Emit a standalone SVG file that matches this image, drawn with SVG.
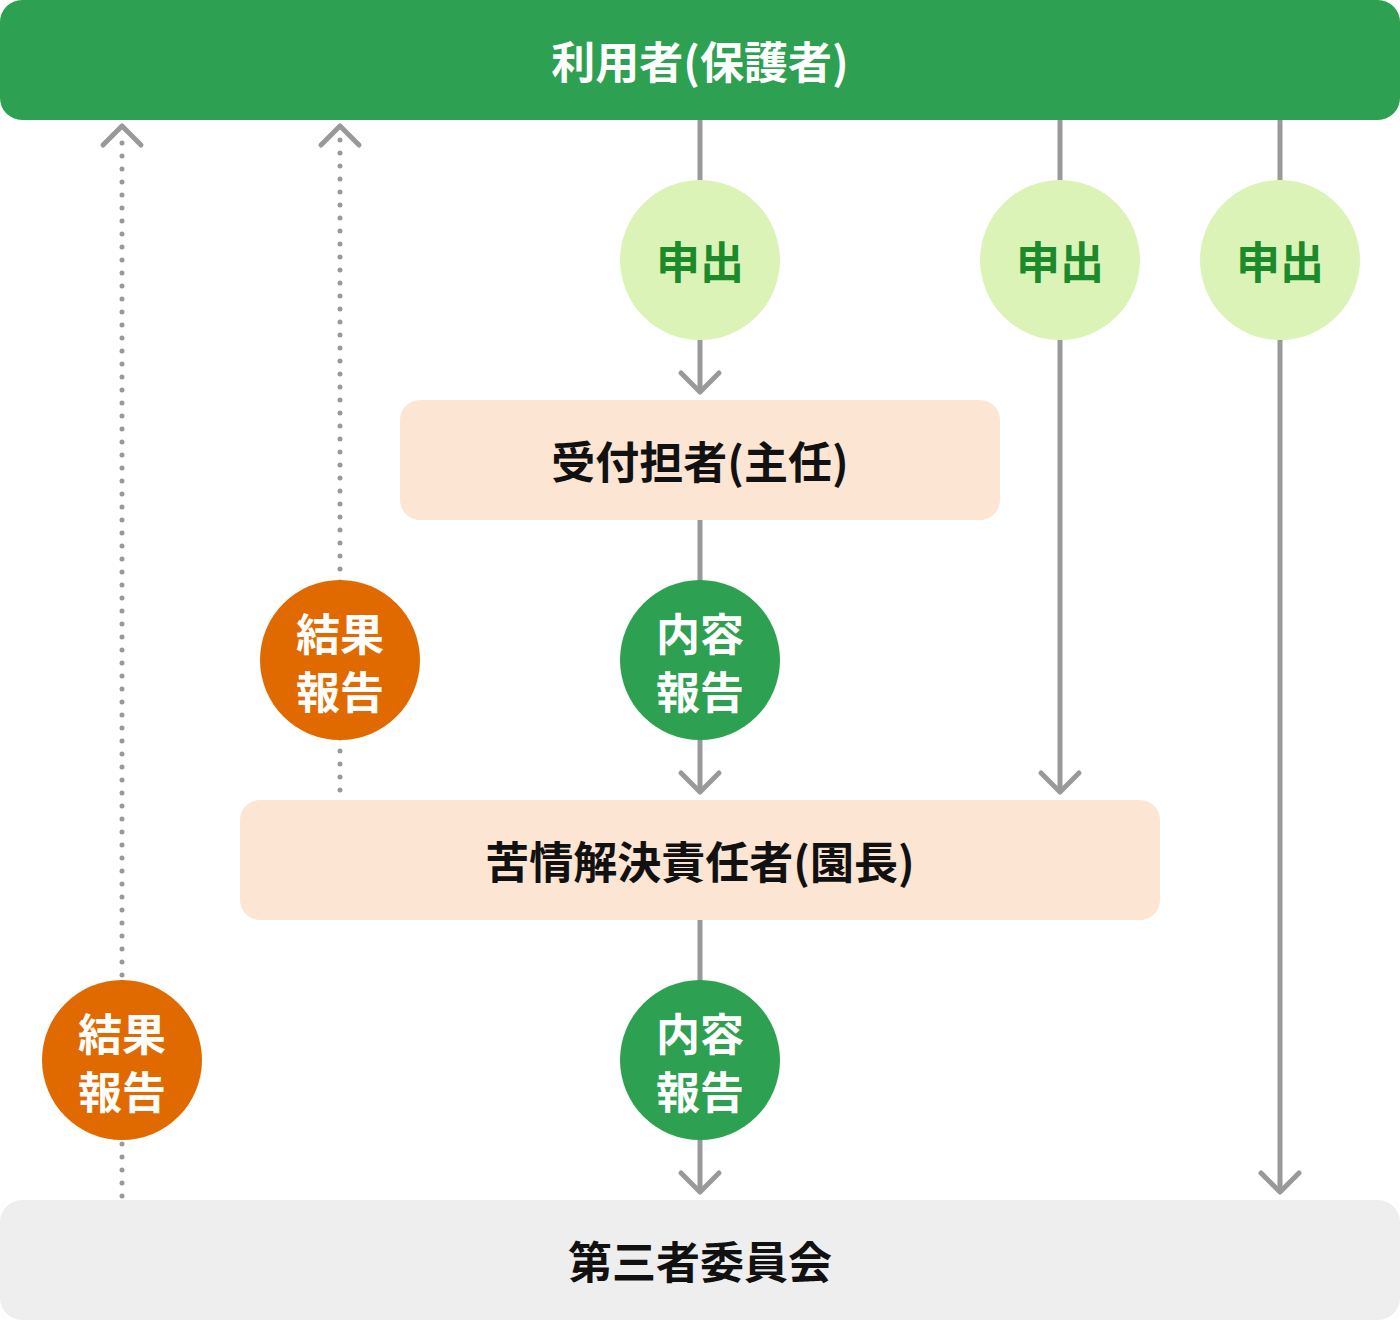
<svg xmlns="http://www.w3.org/2000/svg" width="1400" height="1320" viewBox="0 0 1400 1320">
<style>
.t{font-family:"Noto Sans CJK JP",sans-serif;font-weight:bold;font-size:44px;text-anchor:middle;dominant-baseline:central}
.ln{stroke:#999;stroke-width:5;fill:none}
.dot{stroke:#999;stroke-width:5;fill:none;stroke-dasharray:0 13;stroke-linecap:round}
.ch{stroke:#999;stroke-width:5;fill:none;stroke-linecap:round;stroke-linejoin:round}
</style>
<g id="connectors">
<line class="ln" x1="700" y1="120" x2="700" y2="392"/>
<line class="ln" x1="1060" y1="120" x2="1060" y2="792"/>
<line class="ln" x1="1280" y1="120" x2="1280" y2="1192"/>
<line class="ln" x1="700" y1="520" x2="700" y2="792"/>
<line class="ln" x1="700" y1="920" x2="700" y2="1192"/>
<line class="dot" x1="122" y1="1196" x2="122" y2="135"/>
<line class="dot" x1="340" y1="790" x2="340" y2="135"/>
<polyline class="ch" points="681,373 700,392 719,373"/>
<polyline class="ch" points="681,773 700,792 719,773"/>
<polyline class="ch" points="1041,773 1060,792 1079,773"/>
<polyline class="ch" points="681,1173 700,1192 719,1173"/>
<polyline class="ch" points="1261,1173 1280,1192 1299,1173"/>
<polyline class="ch" points="103,145 122,126 141,145"/>
<polyline class="ch" points="321,145 340,126 359,145"/>
</g>
<g id="user"><rect x="0" y="0" width="1400" height="120" rx="22" fill="#2ea052"/><text class="t" x="700" y="60" fill="#fff">利用者(保護者)</text></g>
<g id="m1"><circle cx="700" cy="260" r="80" fill="#dcf3b8"/><text class="t" x="700" y="260" fill="#1a8a2a">申出</text></g>
<g id="m2"><circle cx="1060" cy="260" r="80" fill="#dcf3b8"/><text class="t" x="1060" y="260" fill="#1a8a2a">申出</text></g>
<g id="m3"><circle cx="1280" cy="260" r="80" fill="#dcf3b8"/><text class="t" x="1280" y="260" fill="#1a8a2a">申出</text></g>
<g id="recv"><rect x="400" y="400" width="600" height="120" rx="20" fill="#fde5d3"/><text class="t" x="700" y="460" fill="#111">受付担者(主任)</text></g>
<g id="r1"><circle cx="700" cy="660" r="80" fill="#2ea052"/><text class="t" x="700" y="632" fill="#fff">内容</text><text class="t" x="700" y="690" fill="#fff">報告</text></g>
<g id="k1"><circle cx="340" cy="660" r="80" fill="#e06a00"/><text class="t" x="340" y="632" fill="#fff">結果</text><text class="t" x="340" y="690" fill="#fff">報告</text></g>
<g id="resp"><rect x="240" y="800" width="920" height="120" rx="20" fill="#fde5d3"/><text class="t" x="700" y="860" fill="#111">苦情解決責任者(園長)</text></g>
<g id="r2"><circle cx="700" cy="1060" r="80" fill="#2ea052"/><text class="t" x="700" y="1032" fill="#fff">内容</text><text class="t" x="700" y="1090" fill="#fff">報告</text></g>
<g id="k2"><circle cx="122" cy="1060" r="80" fill="#e06a00"/><text class="t" x="122" y="1032" fill="#fff">結果</text><text class="t" x="122" y="1090" fill="#fff">報告</text></g>
<g id="third"><rect x="0" y="1200" width="1400" height="120" rx="22" fill="#eeeeee"/><text class="t" x="700" y="1260" fill="#111">第三者委員会</text></g>
</svg>
